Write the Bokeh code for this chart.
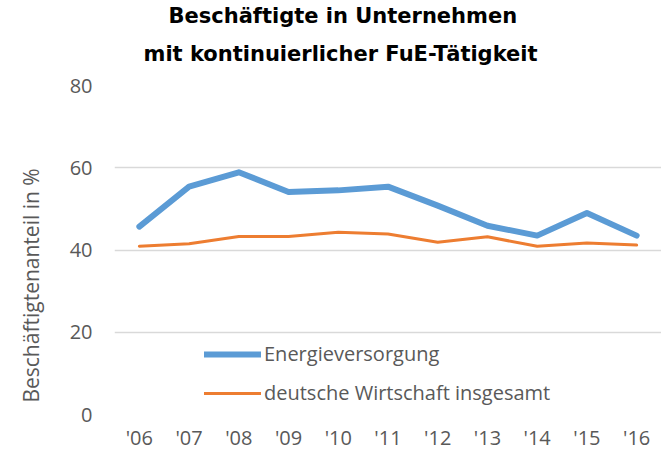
from bokeh.plotting import figure
from bokeh.models import Range1d, FixedTicker, Legend, LegendItem, Title
from bokeh.embed import file_html
from bokeh.resources import INLINE

years = ["'06", "'07", "'08", "'09", "'10", "'11", "'12", "'13", "'14", "'15", "'16"]
energie = [45.7, 55.4, 58.9, 54.1, 54.5, 55.4, 50.8, 45.9, 43.5, 49.0, 43.5]
gesamt = [40.9, 41.5, 43.3, 43.3, 44.3, 43.9, 41.9, 43.2, 40.9, 41.7, 41.2]
y_ticks = [0, 20, 40, 60, 80]
title_lines = ["Beschäftigte in Unternehmen", "mit kontinuierlicher FuE-Tätigkeit"]
series_names = ["Energieversorgung", "deutsche Wirtschaft insgesamt"]
y_label = "Beschäftigtenanteil in %"

TICK_FONT = "Open Sans"
GREY = "#595959"

p = figure(x_range=years, frame_width=547, frame_height=329, output_backend="svg",
           toolbar_location=None, min_border_left=114, min_border_right=0,
           min_border_top=85, min_border_bottom=0)
p.title.visible = False
p.y_range = Range1d(0, 80)
p.outline_line_color = None

r1 = p.line(years, energie, line_color="#5B9BD5", line_width=6, line_cap="round", line_join="round")
r2 = p.line(years, gesamt, line_color="#ED7D31", line_width=3, line_cap="round", line_join="round")

# axes
p.yaxis.ticker = FixedTicker(ticks=y_ticks)
for ax in (p.xaxis[0], p.yaxis[0]):
    ax.axis_line_color = None
    ax.major_tick_line_color = None
    ax.minor_tick_line_color = None
    ax.major_label_text_font = TICK_FONT
    ax.major_label_text_font_size = "20px"
    ax.major_label_text_color = GREY
p.xaxis.major_label_standoff = 3
p.yaxis.major_label_standoff = 16
p.yaxis.axis_label = y_label + "\u00a0" * 13
p.yaxis.axis_label_text_font = TICK_FONT
p.yaxis.axis_label_text_font_size = "21px"
p.yaxis.axis_label_text_font_style = "normal"
p.yaxis.axis_label_text_color = GREY
p.yaxis.axis_label_standoff = 22

p.xgrid.grid_line_color = None
p.ygrid.grid_line_color = "#D9D9D9"
p.ygrid.grid_line_width = 1.5

# titles (first added sits closest to the plot)
p.add_layout(Title(text=title_lines[1], align="left", offset=29, standoff=40,
                   text_font="DejaVu Sans", text_font_size="21px", text_font_style="bold",
                   text_color="#000000"), "above")
p.add_layout(Title(text=title_lines[0], align="left", offset=54, standoff=-16,
                   text_font="DejaVu Sans", text_font_size="21px", text_font_style="bold",
                   text_color="#000000"), "above")

legend = Legend(items=[LegendItem(label=series_names[0], renderers=[r1]),
                       LegendItem(label=series_names[1], renderers=[r2])],
                location=(90, 8), orientation="vertical",
                glyph_width=57, glyph_height=20, label_height=20,
                spacing=12, padding=0, margin=0, label_standoff=3,
                label_text_font=TICK_FONT, label_text_font_size="20px",
                label_text_color=GREY, border_line_color=None,
                background_fill_alpha=0)
p.add_layout(legend, "center")

open("out.html", "w").write(file_html(p, INLINE))
